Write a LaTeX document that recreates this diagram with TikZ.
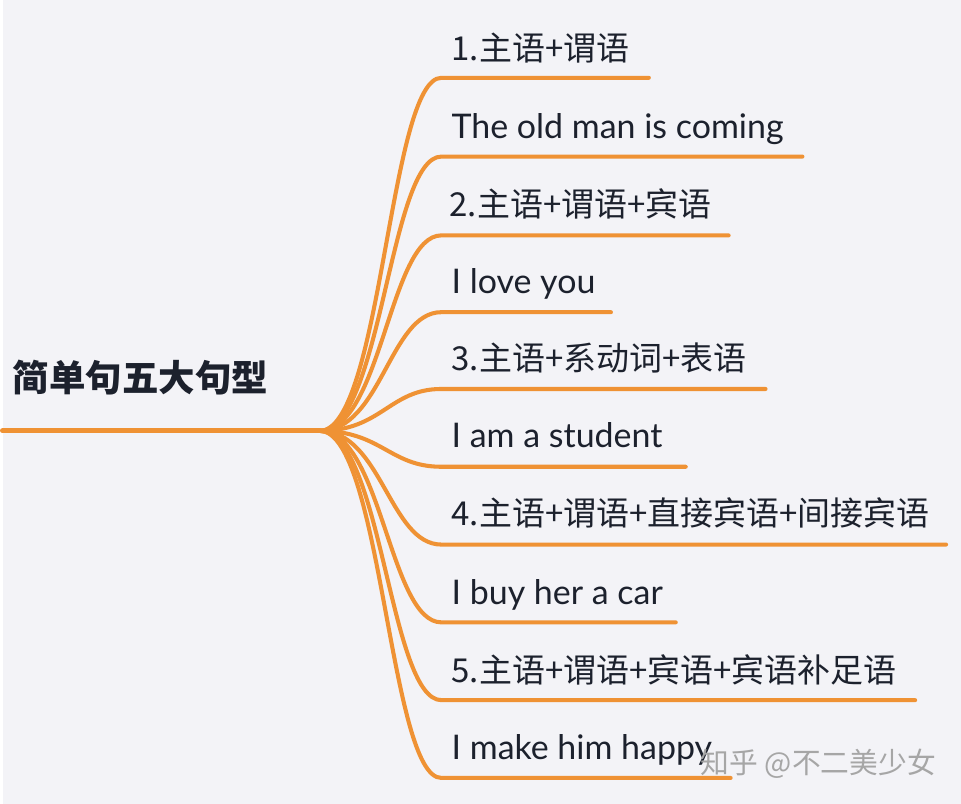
\documentclass[tikz,border=0pt]{standalone}
\usepackage{fontspec}
\setmainfont{Noto Sans CJK SC}
\newfontfamily\latinfont{Lato}

\definecolor{mapline}{RGB}{239,146,52}
\definecolor{mapbg}{RGB}{243,243,247}
\definecolor{maptext}{RGB}{28,33,45}

\begin{document}
\begin{tikzpicture}[x=0.025cm,y=-0.025cm,
    trunk/.style={draw=mapline,line width=3.6pt,line cap=round},
    branch/.style={draw=mapline,line width=2.9pt,line cap=round},
    leaf/.style={anchor=base west,inner sep=0pt,text=maptext,font=\fontsize{23.5}{28}\selectfont},
    eng/.style={leaf,font=\latinfont\fontsize{24.2}{28}\selectfont},
    rootlabel/.style={anchor=base west,inner sep=0pt,text=maptext,font=\bfseries\fontsize{26}{30}\selectfont}]

        \fill[mapbg] (0,0) rectangle (961,806);

        \node[rootlabel] (root) at (10,393) {简单句五大句型};
        \coordinate (start) at (0,432);
        \coordinate (hub) at (318,432);
        \draw[trunk] (start) -- (hub);

        \node[leaf] (t1) at (450,61) {1.主语+谓语};
        \node[eng] (t2) at (450,139) {The old man is coming};
        \node[leaf] (t3) at (448,217) {2.主语+谓语+宾语};
        \node[eng] (t4) at (450,294) {I love you};
        \node[leaf] (t5) at (450,371) {3.主语+系动词+表语};
        \node[eng] (t6) at (450,449) {I am a student};
        \node[leaf] (t7) at (450,527) {4.主语+谓语+直接宾语+间接宾语};
        \node[eng] (t8) at (450,606) {I buy her a car};
        \node[leaf] (t9) at (450,684) {5.主语+谓语+宾语+宾语补足语};
        \node[eng] (t10) at (450,761) {I make him happy};

        \coordinate (u1) at (440,78);   \coordinate (e1) at (648,78);
        \coordinate (u2) at (440,157);  \coordinate (e2) at (802,157);
        \coordinate (u3) at (440,236);  \coordinate (e3) at (728,236);
        \coordinate (u4) at (440,313);  \coordinate (e4) at (610,313);
        \coordinate (u5) at (440,390);  \coordinate (e5) at (765,390);
        \coordinate (u6) at (440,468);  \coordinate (e6) at (685,468);
        \coordinate (u7) at (440,546);  \coordinate (e7) at (946,546);
        \coordinate (u8) at (440,624);  \coordinate (e8) at (675,624);
        \coordinate (u9) at (440,702);  \coordinate (e9) at (915,702);
        \coordinate (u10) at (440,780); \coordinate (e10) at (730,780);

        % branches from the hub
        \draw[branch] (hub) .. controls +(62,0) and +(-52,0) .. (u1) -- (e1);
        \draw[branch] (hub) .. controls +(62,0) and +(-52,0) .. (u2) -- (e2);
        \draw[branch] (hub) .. controls +(62,0) and +(-52,0) .. (u3) -- (e3);
        \draw[branch] (hub) .. controls +(62,0) and +(-52,0) .. (u4) -- (e4);
        \draw[branch] (hub) .. controls +(62,0) and +(-52,0) .. (u5) -- (e5);
        \draw[branch] (hub) .. controls +(62,0) and +(-52,0) .. (u6) -- (e6);
        \draw[branch] (hub) .. controls +(62,0) and +(-52,0) .. (u7) -- (e7);
        \draw[branch] (hub) .. controls +(62,0) and +(-52,0) .. (u8) -- (e8);
        \draw[branch] (hub) .. controls +(62,0) and +(-52,0) .. (u9) -- (e9);
        \draw[branch] (hub) .. controls +(62,0) and +(-52,0) .. (u10) -- (e10);

        \node[leaf,text=black!35,font=\fontsize{20.5}{25}\selectfont] (mark) at (700,776) {知乎 @不二美少女};
\end{tikzpicture}
\end{document}
